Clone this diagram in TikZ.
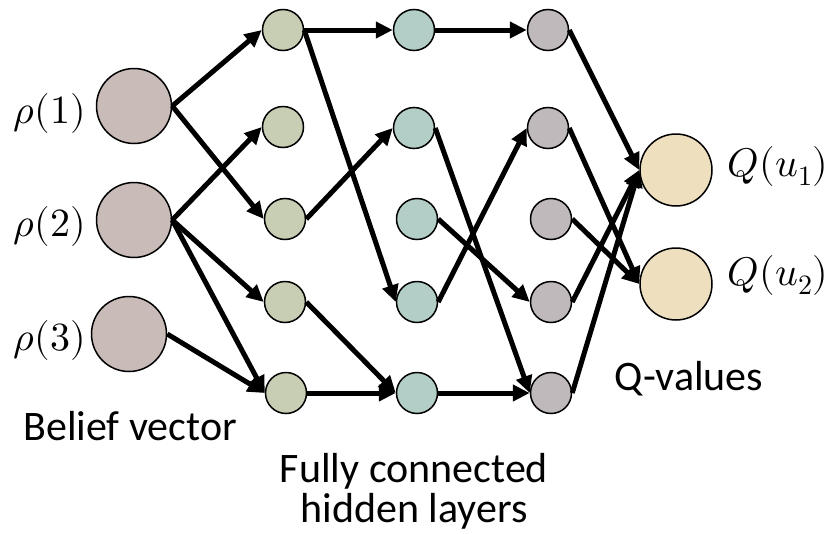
\documentclass[tikz,border=0pt]{standalone}
\usepackage{fontspec}
\usepackage{unicode-math}
\setmainfont{Carlito}
\setmathfont{Latin Modern Math}
\usetikzlibrary{arrows.meta}
\definecolor{cin}{HTML}{C9BBB7}
\definecolor{cla}{HTML}{C8CEB4}
\definecolor{clb}{HTML}{B3CEC6}
\definecolor{clc}{HTML}{BFB9BB}
\definecolor{cq}{HTML}{EEE0BE}
\tikzset{
  conn/.style={line width=5pt, -{Triangle[length=17pt,width=16pt]}},
  neuron/.style={circle, draw=black, line width=1.5pt, inner sep=0pt},
  inp/.style={neuron, fill=cin, minimum size=75pt},
  hid/.style={neuron, minimum size=41pt},
  outq/.style={neuron, fill=cq, minimum size=72pt},
  mlbl/.style={inner sep=0pt, font=\fontsize{40}{44}\selectfont},
  slbl/.style={inner sep=0pt, anchor=base, font=\fontsize{42}{46}\selectfont}
}
\begin{document}
\begin{tikzpicture}[x=1pt,y=-1pt]
\useasboundingbox (0,0) rectangle (830,533);
% input layer
\node[inp] (in1) at (134,106) {};
\node[inp] (in2) at (134,220) {};
\node[inp] (in3) at (129,334) {};
% hidden layer 1
\node[hid, fill=cla] (a1) at (283,30) {};
\node[hid, fill=cla] (a2) at (283,127) {};
\node[hid, fill=cla] (a3) at (285,219) {};
\node[hid, fill=cla] (a4) at (285,302) {};
\node[hid, fill=cla] (a5) at (286,393) {};
% hidden layer 2
\node[hid, fill=clb] (b1) at (414,30) {};
\node[hid, fill=clb] (b2) at (414,128) {};
\node[hid, fill=clb] (b3) at (417,219) {};
\node[hid, fill=clb] (b4) at (417,302) {};
\node[hid, fill=clb] (b5) at (417,393) {};
% hidden layer 3
\node[hid, fill=clc] (c1) at (548,30) {};
\node[hid, fill=clc] (c2) at (548,128) {};
\node[hid, fill=clc] (c3) at (551,219) {};
\node[hid, fill=clc] (c4) at (551,302) {};
\node[hid, fill=clc] (c5) at (551,393) {};
% outputs
\node[outq] (q1) at (676,170) {};
\node[outq] (q2) at (676,284) {};
% connections
\draw[conn] (in1.east) -- (a1.west);
\draw[conn] (in1.east) -- (a3.west);
\draw[conn] (in2.east) -- (a2.west);
\draw[conn] (in2.east) -- (a4.west);
\draw[conn] (in2.east) -- (a5.west);
\draw[conn] (in3.east) -- (a5.west);
\draw[conn] (a1.east) -- (b1.west);
\draw[conn] (a1.east) -- (b4.west);
\draw[conn] (a3.east) -- (b2.west);
\draw[conn] (a4.east) -- (b5.west);
\draw[conn] (a5.east) -- (b5.west);
\draw[conn] (b1.east) -- (c1.west);
\draw[conn] (b2.east) -- (c5.west);
\draw[conn] (b3.east) -- (c4.west);
\draw[conn] (b4.east) -- (c2.west);
\draw[conn] (b5.east) -- (c5.west);
\draw[conn] (c1.east) -- (q1.west);
\draw[conn] (c2.east) -- (q2.west);
\draw[conn] (c3.east) -- (q2.west);
\draw[conn] (c4.east) -- (q1.west);
\draw[conn] (c5.east) -- (q1.west);
% labels
\node[mlbl] (l1) at (49.5,113.5) {$\rho(1)$};
\node[mlbl] (l2) at (49.5,226) {$\rho(2)$};
\node[mlbl] (l3) at (49.5,340) {$\rho(3)$};
\node[mlbl] (lq1) at (778,166) {$Q(u_1)$};
\node[mlbl] (lq2) at (778,275) {$Q(u_2)$};
\node[slbl] (bv) at (130,440) {Belief vector};
\node[slbl] (fc1) at (414,482) {Fully connected};
\node[slbl] (fc2) at (414,522) {hidden layers};
\node[slbl] (qv) at (689,390) {Q-values};
\end{tikzpicture}
\end{document}
